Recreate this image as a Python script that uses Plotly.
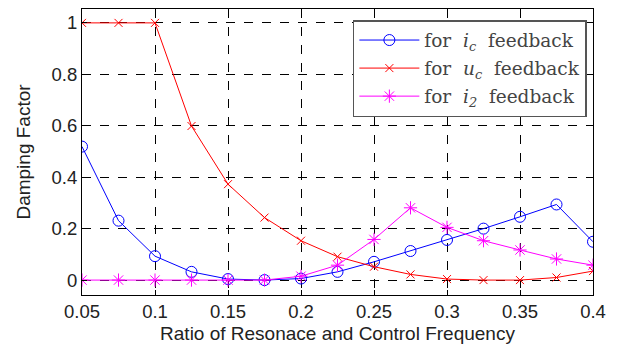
import plotly.graph_objects as go

x = [0.05, 0.075, 0.1, 0.125, 0.15, 0.175, 0.2, 0.225, 0.25, 0.275, 0.3, 0.325, 0.35, 0.375, 0.4]
ic = [0.519, 0.231, 0.093, 0.032, 0.004, 0.0, 0.006, 0.032, 0.071, 0.113, 0.156, 0.2, 0.246, 0.294, 0.149]
uc = [1.0, 1.0, 1.0, 0.599, 0.373, 0.243, 0.153, 0.091, 0.052, 0.022, 0.004, 0.0, 0.0, 0.01, 0.035]
i2 = [0.0, 0.0, 0.0, 0.0, 0.0, 0.0, 0.015, 0.058, 0.158, 0.281, 0.205, 0.153, 0.117, 0.082, 0.058]

xticks = [0.05, 0.1, 0.15, 0.2, 0.25, 0.3, 0.35, 0.4]
xticktext = ["0.05", "0.1", "0.15", "0.2", "0.25", "0.3", "0.35", "0.4"]
yticks = [0, 0.2, 0.4, 0.6, 0.8, 1]
yticktext = ["0", "0.2", "0.4", "0.6", "0.8", "1"]

sp = "&nbsp;&nbsp;"
names = ["for" + sp + "<i>i<sub>c</sub></i>" + sp + "feedback",
         "for" + sp + "<i>u<sub>c</sub></i>" + sp + "feedback",
         "for" + sp + "<i>i<sub>2</sub></i>" + sp + "feedback"]

fig = go.Figure()
fig.add_trace(go.Scatter(x=x, y=ic, mode="lines+markers", name=names[0], legendgroup="a",
                         line=dict(color="#0000ff", width=1),
                         marker=dict(symbol="circle-open", size=11, color="#0000ff", line=dict(width=1))))
fig.add_trace(go.Scatter(x=x, y=uc, mode="lines+markers", name=names[1], legendgroup="b",
                         line=dict(color="#ff0000", width=1),
                         marker=dict(symbol="x-thin-open", size=8, color="#ff0000", line=dict(width=1))))
fig.add_trace(go.Scatter(x=x, y=i2, mode="lines+markers", name=names[2], legendgroup="c",
                         line=dict(color="#ff00ff", width=1),
                         marker=dict(symbol="asterisk-open", size=11, color="#ff00ff", line=dict(width=1))))

tickf = dict(family="Liberation Sans", size=18.5, color="#222")
titlef = dict(family="Liberation Sans", size=19, color="#222")
axis_common = dict(showline=True, linecolor="black", linewidth=1, mirror="ticks",
                   ticks="inside", ticklen=5, tickcolor="black",
                   showgrid=True, gridcolor="black", gridwidth=1, griddash="dash",
                   zeroline=False, tickfont=tickf, automargin=False)

fig.update_xaxes(range=[0.05, 0.4], tickvals=xticks, ticktext=xticktext,
                 title=dict(text="Ratio of Resonace and Control Frequency", font=titlef),
                 **axis_common)
fig.update_yaxes(range=[-0.058, 1.054], tickvals=yticks, ticktext=yticktext,
                 title=dict(text="Damping Factor", font=titlef),
                 **axis_common)

fig.update_layout(width=623, height=344, margin=dict(l=82, r=30, t=9, b=49),
                  paper_bgcolor="white", plot_bgcolor="white", showlegend=True,
                  legend=dict(x=0.988, y=0.9615, xanchor="right", yanchor="top",
                              bgcolor="white", bordercolor="#555", borderwidth=1.5,
                              font=dict(family="DejaVu Serif", size=18.5, color="#444"),
                              itemwidth=60, tracegroupgap=1))

fig.write_html("out.html")
